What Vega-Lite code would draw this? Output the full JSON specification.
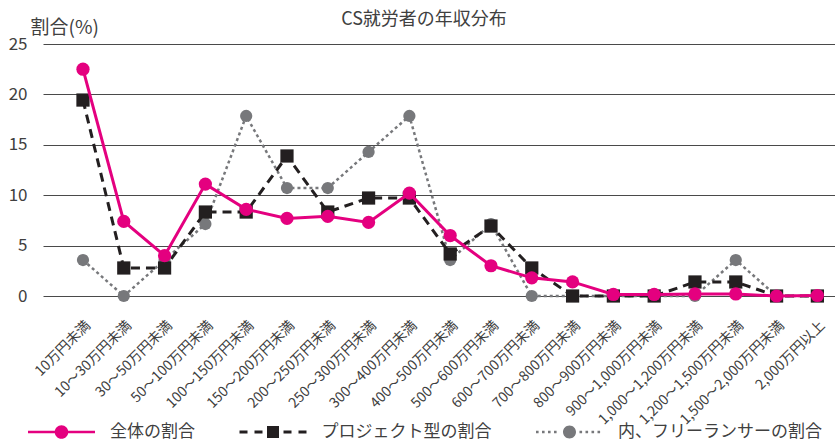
{
  "$schema": "https://vega.github.io/schema/vega-lite/v6.json",
  "autosize": {"type": "none"},
  "padding": {"left": 43, "top": 44, "right": 0, "bottom": 146},
  "width": 792,
  "height": 252,
  "background": "white",
  "config": {
    "font": "Noto Sans CJK JP",
    "view": {"stroke": null}
  },
  "title": {
    "text": "CS就労者の年収分布",
    "fontSize": 18,
    "fontWeight": "normal",
    "color": "#404040",
    "anchor": "middle",
    "dx": -15,
    "dy": 15
  },
  "data": {
    "values": [
      {"cat": "10万円未満", "series": "内、フリーランサーの割合", "value": 3.57},
      {"cat": "10～30万円未満", "series": "内、フリーランサーの割合", "value": 0},
      {"cat": "30～50万円未満", "series": "内、フリーランサーの割合", "value": 3.57},
      {"cat": "50～100万円未満", "series": "内、フリーランサーの割合", "value": 7.14},
      {"cat": "100～150万円未満", "series": "内、フリーランサーの割合", "value": 17.86},
      {"cat": "150～200万円未満", "series": "内、フリーランサーの割合", "value": 10.71},
      {"cat": "200～250万円未満", "series": "内、フリーランサーの割合", "value": 10.71},
      {"cat": "250～300万円未満", "series": "内、フリーランサーの割合", "value": 14.29},
      {"cat": "300～400万円未満", "series": "内、フリーランサーの割合", "value": 17.86},
      {"cat": "400～500万円未満", "series": "内、フリーランサーの割合", "value": 3.57},
      {"cat": "500～600万円未満", "series": "内、フリーランサーの割合", "value": 7.14},
      {"cat": "600～700万円未満", "series": "内、フリーランサーの割合", "value": 0},
      {"cat": "700～800万円未満", "series": "内、フリーランサーの割合", "value": 0},
      {"cat": "800～900万円未満", "series": "内、フリーランサーの割合", "value": 0},
      {"cat": "900～1,000万円未満", "series": "内、フリーランサーの割合", "value": 0},
      {"cat": "1,000～1,200万円未満", "series": "内、フリーランサーの割合", "value": 0},
      {"cat": "1,200～1,500万円未満", "series": "内、フリーランサーの割合", "value": 3.57},
      {"cat": "1,500～2,000万円未満", "series": "内、フリーランサーの割合", "value": 0},
      {"cat": "2,000万円以上", "series": "内、フリーランサーの割合", "value": 0},
      {"cat": "10万円未満", "series": "プロジェクト型の割合", "value": 19.44},
      {"cat": "10～30万円未満", "series": "プロジェクト型の割合", "value": 2.78},
      {"cat": "30～50万円未満", "series": "プロジェクト型の割合", "value": 2.78},
      {"cat": "50～100万円未満", "series": "プロジェクト型の割合", "value": 8.33},
      {"cat": "100～150万円未満", "series": "プロジェクト型の割合", "value": 8.33},
      {"cat": "150～200万円未満", "series": "プロジェクト型の割合", "value": 13.89},
      {"cat": "200～250万円未満", "series": "プロジェクト型の割合", "value": 8.33},
      {"cat": "250～300万円未満", "series": "プロジェクト型の割合", "value": 9.72},
      {"cat": "300～400万円未満", "series": "プロジェクト型の割合", "value": 9.72},
      {"cat": "400～500万円未満", "series": "プロジェクト型の割合", "value": 4.17},
      {"cat": "500～600万円未満", "series": "プロジェクト型の割合", "value": 6.94},
      {"cat": "600～700万円未満", "series": "プロジェクト型の割合", "value": 2.78},
      {"cat": "700～800万円未満", "series": "プロジェクト型の割合", "value": 0},
      {"cat": "800～900万円未満", "series": "プロジェクト型の割合", "value": 0},
      {"cat": "900～1,000万円未満", "series": "プロジェクト型の割合", "value": 0},
      {"cat": "1,000～1,200万円未満", "series": "プロジェクト型の割合", "value": 1.39},
      {"cat": "1,200～1,500万円未満", "series": "プロジェクト型の割合", "value": 1.39},
      {"cat": "1,500～2,000万円未満", "series": "プロジェクト型の割合", "value": 0},
      {"cat": "2,000万円以上", "series": "プロジェクト型の割合", "value": 0},
      {"cat": "10万円未満", "series": "全体の割合", "value": 22.5},
      {"cat": "10～30万円未満", "series": "全体の割合", "value": 7.4},
      {"cat": "30～50万円未満", "series": "全体の割合", "value": 4.0},
      {"cat": "50～100万円未満", "series": "全体の割合", "value": 11.1},
      {"cat": "100～150万円未満", "series": "全体の割合", "value": 8.6},
      {"cat": "150～200万円未満", "series": "全体の割合", "value": 7.7},
      {"cat": "200～250万円未満", "series": "全体の割合", "value": 7.9},
      {"cat": "250～300万円未満", "series": "全体の割合", "value": 7.3},
      {"cat": "300～400万円未満", "series": "全体の割合", "value": 10.2},
      {"cat": "400～500万円未満", "series": "全体の割合", "value": 6.0},
      {"cat": "500～600万円未満", "series": "全体の割合", "value": 3.0},
      {"cat": "600～700万円未満", "series": "全体の割合", "value": 1.8},
      {"cat": "700～800万円未満", "series": "全体の割合", "value": 1.4},
      {"cat": "800～900万円未満", "series": "全体の割合", "value": 0.15},
      {"cat": "900～1,000万円未満", "series": "全体の割合", "value": 0.15},
      {"cat": "1,000～1,200万円未満", "series": "全体の割合", "value": 0.2},
      {"cat": "1,200～1,500万円未満", "series": "全体の割合", "value": 0.2},
      {"cat": "1,500～2,000万円未満", "series": "全体の割合", "value": 0},
      {"cat": "2,000万円以上", "series": "全体の割合", "value": 0.05}
    ]
  },
  "encoding": {
    "x": {
      "field": "cat",
      "type": "nominal",
      "sort": null,
      "scale": {
        "type": "point",
        "domain": ["10万円未満","10～30万円未満","30～50万円未満","50～100万円未満","100～150万円未満","150～200万円未満","200～250万円未満","250～300万円未満","300～400万円未満","400～500万円未満","500～600万円未満","600～700万円未満","700～800万円未満","800～900万円未満","900～1,000万円未満","1,000～1,200万円未満","1,200～1,500万円未満","1,500～2,000万円未満","2,000万円以上"],
        "padding": 0.706,
        "align": 0.694
      },
      "axis": {
        "title": null,
        "domain": false,
        "ticks": false,
        "grid": false,
        "labelAngle": -45,
        "labelAlign": "right",
        "labelBaseline": "top",
        "labelPadding": 22,
        "labelFontSize": 14,
        "labelColor": "#404040",
        "labelLimit": 0,
        "labelOverlap": false
      }
    },
    "y": {
      "field": "value",
      "type": "quantitative",
      "scale": {"domain": [0, 25], "nice": false, "zero": true},
      "axis": {
        "values": [0, 5, 10, 15, 20, 25],
        "domain": false,
        "ticks": false,
        "grid": true,
        "gridColor": "#4a4a4a",
        "gridWidth": 1,
        "labelFontSize": 17,
        "labelColor": "#404040",
        "labelPadding": 16,
        "title": "割合(%)",
        "titleAngle": 0,
        "titleAlign": "left",
        "titleBaseline": "middle",
        "titleX": -13,
        "titleY": -17,
        "titleFontSize": 19,
        "titleFontWeight": "normal",
        "titleColor": "#404040"
      }
    },
    "color": {
      "field": "series",
      "type": "nominal",
      "scale": {
        "domain": ["全体の割合", "プロジェクト型の割合", "内、フリーランサーの割合"],
        "range": ["#e4007f", "#231f20", "#77787b"]
      },
      "legend": {
        "orient": "none",
        "legendX": 8.5,
        "legendY": 378,
        "direction": "horizontal",
        "title": null,
        "symbolSize": 400,
        "symbolStrokeWidth": 0,
        "labelFontSize": 17,
        "labelColor": "#404040",
        "labelOffset": 38.5,
        "columnPadding": 43.5,
        "labelLimit": 0,
        "encode": {
          "symbols": {
            "update": {
              "shape": {"signal": "datum.value === '全体の割合' ? 'M-3.35,-0.13H3.35V0.13H-3.35Z M0.68,0A0.68,0.68,0,1,1,-0.68,0A0.68,0.68,0,1,1,0.68,0Z' : datum.value === 'プロジェクト型の割合' ? 'M-3.35,-0.15H-2.55V0.15H-3.35Z M-1.85,-0.15H-1.05V0.15H-1.85Z M-0.6,-0.6H0.6V0.6H-0.6Z M1.05,-0.15H1.85V0.15H1.05Z M2.55,-0.15H3.35V0.15H2.55Z' : 'M-3.35,-0.13H-3.09V0.13H-3.35Z M-2.75,-0.13H-2.49V0.13H-2.75Z M-2.15,-0.13H-1.89V0.13H-2.15Z M-1.55,-0.13H-1.29V0.13H-1.55Z M0.65,0A0.65,0.65,0,1,1,-0.65,0A0.65,0.65,0,1,1,0.65,0Z M1.0,-0.13H1.26V0.13H1.0Z M1.6,-0.13H1.86V0.13H1.6Z M2.2,-0.13H2.46V0.13H2.2Z M2.8,-0.13H3.06V0.13H2.8Z'"},
              "fill": {"scale": "color", "field": "value"},
              "stroke": {"value": "transparent"},
              "strokeWidth": {"value": 0},
              "opacity": {"value": 1},
              "size": {"value": 400}
            }
          }
        }
      }
    }
  },
  "layer": [
    {
      "transform": [{"filter": "datum.series === '内、フリーランサーの割合'"}],
      "mark": {"type": "line", "strokeWidth": 2.5, "strokeDash": [3, 3], "point": {"filled": true, "size": 150, "shape": "circle", "opacity": 1}}
    },
    {
      "transform": [{"filter": "datum.series === 'プロジェクト型の割合'"}],
      "mark": {"type": "line", "strokeWidth": 3, "strokeDash": [9, 6], "point": {"filled": true, "size": 175, "shape": "square", "opacity": 1}}
    },
    {
      "transform": [{"filter": "datum.series === '全体の割合'"}],
      "mark": {"type": "line", "strokeWidth": 3, "point": {"filled": true, "size": 175, "shape": "circle", "opacity": 1}}
    }
  ]
}
